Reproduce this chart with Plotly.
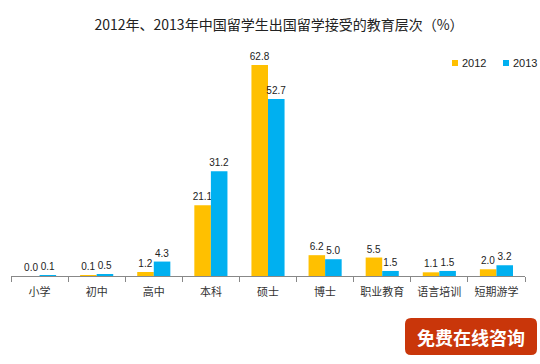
import plotly.graph_objects as go

categories = ["小学", "初中", "高中", "本科", "硕士", "博士", "职业教育", "语言培训", "短期游学"]
series_names = ["2012", "2013"]
values_2012 = [0.0, 0.1, 1.2, 21.1, 62.8, 6.2, 5.5, 1.1, 2.0]
values_2013 = [0.1, 0.5, 4.3, 31.2, 52.7, 5.0, 1.5, 1.5, 3.2]
colors = ["#FFC000", "#00B0F0"]

CJK = "Noto Sans CJK SC, Microsoft YaHei, sans-serif"
NUM = "Liberation Sans, Arial, sans-serif"

W, H = 540, 364
l, rr, t, b = 11, 15, 50, 88
pw, ph = W - l - rr, H - t - b
def px(x): return (x - l) / pw
def py(y): return (H - b - y) / ph

fig = go.Figure()
for name, vals, col in zip(series_names, [values_2012, values_2013], colors):
    fig.add_trace(go.Bar(name=name, x=categories, y=vals, marker_color=col,
                         marker_line_width=0,
                         text=[f"{v:.1f}" for v in vals], textposition="outside",
                         constraintext="none",
                         textfont=dict(size=10, color="#222", family=NUM),
                         cliponaxis=False))

fig.update_layout(
    width=W, height=H,
    margin=dict(l=l, r=rr, t=t, b=b, autoexpand=False),
    paper_bgcolor="white", plot_bgcolor="white",
    barmode="group", bargap=0.42, bargroupgap=0,
    font=dict(family=CJK, color="#333"),
    title=dict(text="2012年、2013年中国留学生出国留学接受的教育层次（%）",
               x=279 / W, xanchor="center", y=1 - 25 / H, yanchor="middle",
               font=dict(size=14, color="#222", family=CJK)),
    showlegend=False,
)
fig.update_xaxes(showline=True, linecolor="#888", linewidth=1, ticks="outside",
                 tickson="boundaries", ticklen=5, tickcolor="#888",
                 ticklabelstandoff=6,
                 tickfont=dict(size=11, color="#333", family=CJK), showgrid=False)
fig.update_yaxes(visible=False, range=[0, 67.3], showgrid=False, zeroline=False)

# Legend (drawn manually for compact spacing)
leg = [(452, 460), (503, 511)]
for (sx, tx), name, col in zip(leg, series_names, colors):
    fig.add_shape(type="rect", xref="paper", yref="paper",
                  x0=px(sx), x1=px(sx + 6), y0=py(60), y1=py(66),
                  fillcolor=col, line=dict(width=0))
    fig.add_annotation(xref="paper", yref="paper", x=px(tx), y=py(63),
                       text=name, showarrow=False, xanchor="left", yanchor="middle",
                       font=dict(size=11, color="#222", family=NUM))

# Consultation button
x0, y0, x1, y1, r = 405, 318, 537, 355, 6
path = (f"M {px(x0+r)},{py(y0)} L {px(x1-r)},{py(y0)} Q {px(x1)},{py(y0)} {px(x1)},{py(y0+r)} "
        f"L {px(x1)},{py(y1-r)} Q {px(x1)},{py(y1)} {px(x1-r)},{py(y1)} L {px(x0+r)},{py(y1)} "
        f"Q {px(x0)},{py(y1)} {px(x0)},{py(y1-r)} L {px(x0)},{py(y0+r)} Q {px(x0)},{py(y0)} {px(x0+r)},{py(y0)} Z")
fig.add_shape(type="path", xref="paper", yref="paper", path=path,
              fillcolor="#C9360A", line=dict(width=0))
fig.add_annotation(xref="paper", yref="paper", x=px((x0 + x1) / 2), y=py((y0 + y1) / 2),
                   text="<b>免费在线咨询</b>", showarrow=False, xanchor="center", yanchor="middle",
                   font=dict(size=18, color="white", family=CJK))

# remove the default page margin so the figure fills the 540x364 window exactly
fig.write_html("out.html", config={"displayModeBar": False},
               post_script="document.body.style.margin='0';document.documentElement.style.overflow='hidden';")
